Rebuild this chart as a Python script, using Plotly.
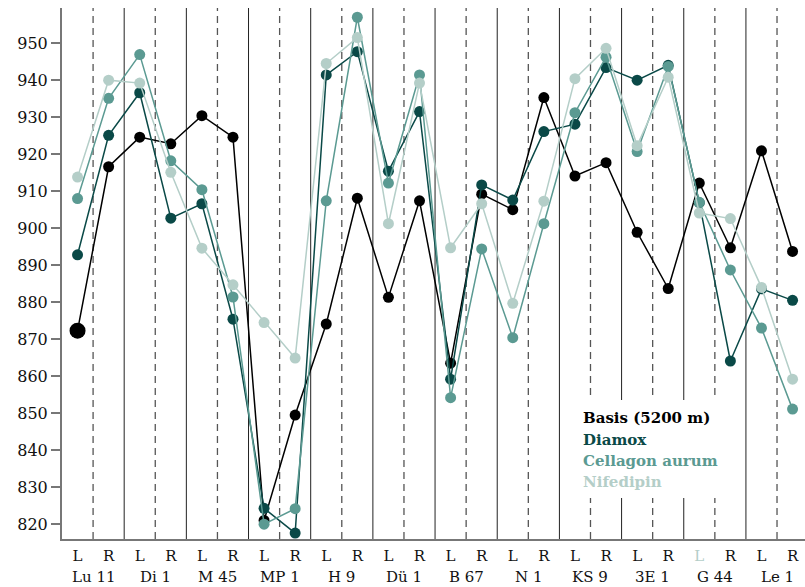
import plotly.graph_objects as go

# Measurement sites (two sides each) and their labels
groups = ["Lu 11", "Di 1", "M 45", "MP 1", "H 9", "Dü 1", "B 67", "N 1", "KS 9", "3E 1", "G 44", "Le 1"]
sides = ["L", "R"]

basis = [872.3, 916.6, 924.6, 922.8, 930.4, 924.6, 821.0, 849.5, 874.1, 908.1, 881.3, 907.4,
         863.5, 909.2, 905.0, 935.3, 914.1, 917.7, 898.9, 883.7, 912.2, 894.7, 920.9, 893.7]
diamox = [892.8, 925.1, 936.6, 902.7, 906.6, 875.4, 824.3, 817.6, 941.4, 947.7, 915.4, 931.5,
          859.2, 911.7, 907.6, 926.1, 928.1, 943.4, 940.0, 944.0, 906.9, 864.1, 883.6, 880.5]
cellagon = [908.0, 935.1, 946.9, 918.2, 910.4, 881.4, 820.0, 824.2, 907.4, 957.0, 912.2, 941.4,
            854.2, 894.4, 870.4, 901.2, 931.2, 946.2, 920.7, 943.7, 907.0, 888.7, 873.0, 851.1]
nifedipin = [913.8, 940.0, 939.2, 915.1, 894.6, 884.7, 874.5, 864.9, 944.5, 951.5, 901.2, 939.2,
             894.7, 906.6, 879.7, 907.3, 940.4, 948.6, 922.3, 940.8, 904.1, 902.6, 884.0, 859.2]

y_ticks = [820, 830, 840, 850, 860, 870, 880, 890, 900, 910, 920, 930, 940, 950]

C_BASIS = "#000000"
C_DIAMOX = "#0a4947"
C_CELLAGON = "#5b9a92"
C_NIFED = "#b4cec8"
FONT = "DejaVu Serif"

n = len(groups) * 2
xs = list(range(n))

fig = go.Figure()

series = [
    ("Basis (5200 m)", basis, C_BASIS),
    ("Diamox", diamox, C_DIAMOX),
    ("Cellagon aurum", cellagon, C_CELLAGON),
    ("Nifedipin", nifedipin, C_NIFED),
]
for name, vals, col in series:
    sizes = [11] * n
    if name.startswith("Basis"):
        sizes[0] = 16
    fig.add_trace(go.Scatter(
        x=xs, y=vals, mode="lines+markers", name=name,
        line=dict(color=col, width=1.5),
        marker=dict(color=col, size=sizes, opacity=1, line=dict(width=0)),
        showlegend=False,
    ))

# group separators (solid) and side separators (dashed)
for g in range(len(groups)):
    mid = 2 * g + 0.5
    fig.add_shape(type="line", xref="x", yref="paper", x0=mid, x1=mid, y0=0, y1=1,
                  line=dict(color="#555555", width=1.3, dash="7px,5px"), layer="below")
    if g < len(groups) - 1:
        b = 2 * g + 1.5
        fig.add_shape(type="line", xref="x", yref="paper", x0=b, x1=b, y0=0, y1=1,
                      line=dict(color="#222222", width=1), layer="below")

# white panel behind the series key
fig.add_shape(type="rect", xref="paper", yref="paper", x0=0.690, x1=0.899, y0=0.077, y1=0.262,
              fillcolor="white", line=dict(width=0), layer="below")

# side labels; the left side of G 44 is shown faded
ticktext = []
for g, name in enumerate(groups):
    for s in sides:
        if name == "G 44" and s == "L":
            ticktext.append(f"<span style='color:{C_NIFED}'>{s}</span>")
        else:
            ticktext.append(s)

# group names under the side labels
for g, name in enumerate(groups):
    fig.add_annotation(x=2 * g + 0.5, y=0, xref="x", yref="paper", text=name,
                       showarrow=False, yanchor="top", yshift=-27,
                       font=dict(family=FONT, size=15, color="#111111"))

# series key
key_y = [0.228, 0.187, 0.147, 0.107]
for (name, _, col), ky in zip(series, key_y):
    fig.add_annotation(x=0.699, y=ky, xref="paper", yref="paper", text=f"<b>{name}</b>",
                       showarrow=False, xanchor="left", yanchor="middle",
                       font=dict(family=FONT, size=15, color=col))

fig.update_layout(
    width=805, height=587,
    margin=dict(l=62, r=0, t=8, b=48),
    paper_bgcolor="white", plot_bgcolor="white",
    font=dict(family=FONT, size=15, color="#111111"),
    xaxis=dict(range=[-0.5, 23.4], tickvals=xs, ticktext=ticktext,
               showgrid=False, zeroline=False, showline=True, linecolor="#777777",
               linewidth=2, ticks="", ticklabelstandoff=2),
    yaxis=dict(range=[816, 959.5], tickvals=y_ticks, showgrid=False, zeroline=False,
               showline=True, linecolor="#777777", linewidth=2, tickfont=dict(size=16),
               ticks="outside", ticklen=9, tickcolor="#777777", tickwidth=1.5),
)

fig.write_html("out.html")
